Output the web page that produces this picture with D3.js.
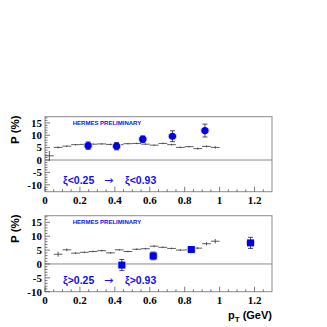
<!DOCTYPE html>
<html>
<head>
<meta charset="utf-8">
<script src="https://cdn.jsdelivr.net/npm/d3@7"></script>
<style>
  body { margin: 0; background: #fff; }
  svg { display: block; }
</style>
</head>
<body>
<svg width="327" height="327"></svg>
<script>
// bin centres of the black histogram points
var binsTop = [0.025, 0.075, 0.125, 0.175, 0.225, 0.275, 0.325, 0.375, 0.425, 0.475,
               0.525, 0.575, 0.625, 0.675, 0.725, 0.775, 0.825, 0.875, 0.925, 0.975];
var valsTop = [1.7, 5.1, 5.6, 6.2, 6.3, 6.4, 6.5, 6.3, 6.2, 6.6,
               6.7, 6.4, 6.0, 6.7, 6.2, 5.1, 5.4, 4.6, 5.5, 5.1];
var errsTop = [2.0, 0.4, 0.3, 0.3, 0.3, 0.3, 0.3, 0.3, 0.3, 0.3,
               0.3, 0.3, 0.3, 0.3, 0.3, 0.3, 0.3, 0.4, 0.4, 0.5];

var binsBot = [0.075, 0.125, 0.175, 0.225, 0.275, 0.325, 0.375, 0.425, 0.475,
               0.525, 0.575, 0.625, 0.675, 0.725, 0.775, 0.825, 0.875, 0.925, 0.975];
var valsBot = [3.5, 5.1, 3.9, 4.2, 4.5, 4.8, 4.0, 5.1, 4.5,
               5.3, 5.5, 6.4, 6.0, 5.6, 5.0, 5.1, 5.7, 7.3, 8.2];
var errsBot = [0.9, 0.5, 0.3, 0.3, 0.3, 0.3, 0.3, 0.3, 0.3,
               0.3, 0.3, 0.4, 0.3, 0.3, 0.3, 0.4, 0.4, 0.6, 0.8];

// blue data points
var ptTop = [0.247, 0.41, 0.56, 0.73, 0.916];
var pTop  = [5.8, 5.6, 8.4, 9.6, 11.9];
var eTop  = [1.5, 1.5, 1.3, 2.2, 2.6];

var ptBot = [0.44, 0.62, 0.838, 1.177];
var pBot  = [-0.4, 2.9, 5.2, 7.6];
var eBot  = [2.0, 1.4, 1.0, 2.0];

var xTicks = [0, 0.2, 0.4, 0.6, 0.8, 1, 1.2];
var yTicks = [-10, -5, 0, 5, 10, 15];

var svg = d3.select("svg");
var serif = "'Liberation Serif', 'DejaVu Serif', serif";
var sans = "'Liberation Sans', Arial, sans-serif";

var x = d3.scaleLinear().domain([0, 1.3]).range([45, 272]);

function panel(cfg) {
  var y = d3.scaleLinear().domain(cfg.ydom).range([cfg.bottom, cfg.top]);
  var g = svg.append("g");

  // frame
  g.append("rect")
    .attr("x", x(0)).attr("y", cfg.top)
    .attr("width", x(1.3) - x(0)).attr("height", cfg.bottom - cfg.top)
    .attr("fill", "none").attr("stroke", "#8a8a8a").attr("stroke-width", 1);

  // zero line
  g.append("line")
    .attr("x1", x(0)).attr("x2", x(1.3))
    .attr("y1", y(0)).attr("y2", y(0))
    .attr("stroke", "#8a8a8a").attr("stroke-width", 1);

  // y ticks (minor every 1, major every 5)
  var yMinor = d3.range(Math.ceil(cfg.ydom[0]), Math.floor(cfg.ydom[1]) + 1);
  g.selectAll(".ytk").data(yMinor).enter().append("line")
    .attr("x1", x(0)).attr("x2", function (d) { return x(0) + (d % 5 === 0 ? 5 : 2.5); })
    .attr("y1", function (d) { return y(d); }).attr("y2", function (d) { return y(d); })
    .attr("stroke", "#444").attr("stroke-width", 0.7);

  // x ticks (minor every 0.05, major every 0.2)
  var xMinor = d3.range(0, 26).map(function (i) { return i * 0.05; });
  g.selectAll(".xtk").data(xMinor).enter().append("line")
    .attr("x1", function (d) { return x(d); }).attr("x2", function (d) { return x(d); })
    .attr("y1", cfg.bottom)
    .attr("y2", function (d, i) { return cfg.bottom - (i % 4 === 0 ? 5 : 2.5); })
    .attr("stroke", "#444").attr("stroke-width", 0.7);

  // tick labels
  g.selectAll(".ylab").data(yTicks).enter().append("text")
    .attr("x", x(0) - 3).attr("y", function (d) { return y(d); })
    .attr("dy", "0.35em").attr("text-anchor", "end")
    .style("font", "bold 11px " + serif)
    .text(function (d) { return d; });

  g.selectAll(".xlab").data(xTicks).enter().append("text")
    .attr("x", function (d) { return x(d); }).attr("y", cfg.bottom + 12.5)
    .attr("text-anchor", "middle")
    .style("font", "bold 11px " + serif)
    .text(function (d) { return d; });

  // y axis title
  g.append("text")
    .attr("transform", "translate(19," + (cfg.top + 13) + ") rotate(-90)")
    .attr("text-anchor", "middle")
    .style("font", "bold 11.5px " + sans)
    .text("P (%)");

  // preliminary label
  g.append("text")
    .attr("x", 107).attr("y", cfg.top + 8.5)
    .attr("text-anchor", "middle")
    .attr("fill", "#1010ee")
    .style("font", "bold 6px " + sans)
    .text("HERMES PRELIMINARY");

  // range label
  var lab = g.append("text")
    .attr("x", 63).attr("y", cfg.labelY)
    .attr("fill", "#1010ee")
    .style("font", "bold 10.5px " + sans);
  lab.append("tspan").text(cfg.lab1);
  lab.append("tspan").attr("x", 104).style("font", "11px 'DejaVu Sans', sans-serif").text("\u2192");
  lab.append("tspan").attr("x", 125).text(cfg.lab2);

  // black histogram points
  var hist = g.append("g").attr("stroke", "#333").attr("stroke-width", 0.8);
  cfg.bins.forEach(function (b, i) {
    hist.append("line")
      .attr("x1", x(b - 0.025)).attr("x2", x(b + 0.025))
      .attr("y1", y(cfg.vals[i])).attr("y2", y(cfg.vals[i]));
    hist.append("line")
      .attr("x1", x(b)).attr("x2", x(b))
      .attr("y1", y(cfg.vals[i] - cfg.errs[i])).attr("y2", y(cfg.vals[i] + cfg.errs[i]));
  });

  // blue points with error bars
  var pts = g.append("g");
  cfg.px.forEach(function (p, i) {
    var cx = x(p), v = cfg.pv[i], e = cfg.pe[i];
    pts.append("rect")
      .attr("x", cx - 4.5).attr("y", y(v + 0.9))
      .attr("width", 9).attr("height", y(v - 0.9) - y(v + 0.9))
      .attr("fill", "#d0d0d0");
    pts.append("line")
      .attr("x1", cx).attr("x2", cx).attr("y1", y(v - e)).attr("y2", y(v + e))
      .attr("stroke", "#222").attr("stroke-width", 0.8);
    [v - e, v + e].forEach(function (c) {
      pts.append("line")
        .attr("x1", cx - 2.5).attr("x2", cx + 2.5).attr("y1", y(c)).attr("y2", y(c))
        .attr("stroke", "#222").attr("stroke-width", 0.8);
    });
    if (cfg.square) {
      pts.append("rect")
        .attr("x", cx - 3.5).attr("y", y(v) - 3.5)
        .attr("width", 7).attr("height", 7)
        .attr("fill", "#0000ee");
    } else {
      pts.append("circle")
        .attr("cx", cx).attr("cy", y(v)).attr("r", 3.6)
        .attr("fill", "#0000ee");
    }
  });
}

panel({
  top: 116.7, bottom: 191.7, ydom: [-12.8, 17.5],
  bins: binsTop, vals: valsTop, errs: errsTop,
  px: ptTop, pv: pTop, pe: eTop, square: false,
  labelY: 183.5, lab1: "\u03BE<0.25", lab2: "\u03BE<0.93"
});

panel({
  top: 215.7, bottom: 291.7, ydom: [-10, 17.4],
  bins: binsBot, vals: valsBot, errs: errsBot,
  px: ptBot, pv: pBot, pe: eBot, square: true,
  labelY: 283.5, lab1: "\u03BE>0.25", lab2: "\u03BE>0.93"
});

// x axis title
var xt = svg.append("text")
  .attr("x", 272).attr("y", 319)
  .attr("text-anchor", "end")
  .style("font", "bold 11px " + sans);
xt.append("tspan").text("p");
xt.append("tspan").attr("dy", 3).style("font-size", "8px").text("T");
xt.append("tspan").attr("dy", -3).text(" (GeV)");
</script>
</body>
</html>
